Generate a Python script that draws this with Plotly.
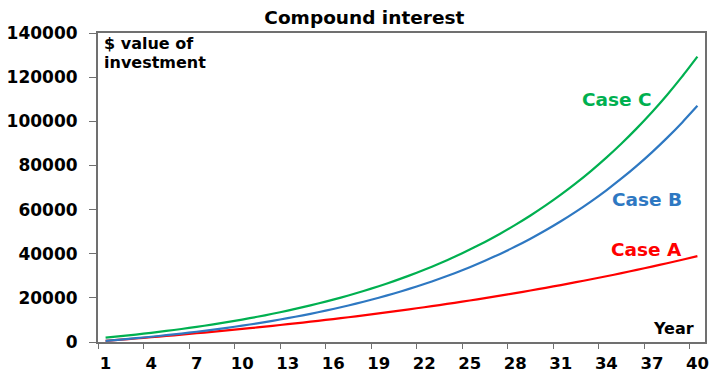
import plotly.graph_objects as go

years = list(range(1, 41))

case_a = [516, 1047, 1594, 2159, 2740, 3339, 3954, 4589, 5243, 5915,
          6608, 7324, 8058, 8817, 9598, 10401, 11228, 12081, 12960, 13865,
          14797, 15757, 16746, 17764, 18813, 19894, 21006, 22152, 23334, 24550,
          25802, 27092, 28420, 29789, 31199, 32651, 34145, 35687, 37272, 38906]

case_b = [536, 1110, 1723, 2380, 3083, 3834, 4639, 5499, 6420, 7406,
          8460, 9588, 10795, 12087, 13469, 14948, 16530, 18223, 20035, 21973,
          24048, 26267, 28641, 31182, 33901, 36810, 39923, 43253, 46817, 50630,
          54710, 59076, 63747, 68745, 74094, 79816, 85939, 92491, 99501, 107000]

case_c = [1950, 2640, 3370, 4160, 5000, 5900, 6860, 7890, 8990, 10170,
          11430, 12780, 14220, 15770, 17420, 19190, 21080, 23110, 25270, 27590,
          30070, 32730, 35570, 38610, 41860, 45340, 49060, 53050, 57310, 61870,
          66750, 71970, 77560, 83540, 89940, 96780, 104100, 111940, 120330, 129300]

x_tick_years = [1, 4, 7, 10, 13, 16, 19, 22, 25, 28, 31, 34, 37, 40]
y_tick_values = [0, 20000, 40000, 60000, 80000, 100000, 120000, 140000]

FONT = "DejaVu Sans"
GREEN = "#00B050"
BLUE = "#2E78C2"
RED = "#FF0000"
AXIS = "#707070"

fig = go.Figure()
for name, vals, col in [("Case A", case_a, RED), ("Case B", case_b, BLUE), ("Case C", case_c, GREEN)]:
    fig.add_trace(go.Scatter(x=years, y=vals, mode="lines", name=name,
                             line=dict(color=col, width=2.2, shape="spline", smoothing=0.6),
                             showlegend=False))

fig.update_layout(
    width=720, height=380,
    margin=dict(l=98, r=15, t=33, b=38),
    paper_bgcolor="white", plot_bgcolor="white",
    font=dict(family=FONT, color="black"),
    title=dict(text="<b>Compound interest</b>", x=0.506, xanchor="center",
               y=1 - 18 / 380, yanchor="middle",
               font=dict(family=FONT, size=18.5, color="black")),
)

fig.update_xaxes(
    range=[0.5, 40.5], tickmode="array", tickvals=x_tick_years,
    ticktext=[f"<b>{v}</b>" for v in x_tick_years],
    ticks="", showgrid=False, zeroline=False, automargin=False,
    showline=True, linecolor=AXIS, linewidth=2, mirror=True,
    tickfont=dict(family=FONT, size=16.5, color="black"),
    ticklabelstandoff=5,
    minor=dict(tickmode="array", tickvals=[v - 0.5 for v in x_tick_years],
               ticks="outside", ticklen=5, tickwidth=1, tickcolor=AXIS, showgrid=False),
)

fig.update_yaxes(
    range=[0, 140000], tickmode="array", tickvals=y_tick_values,
    ticktext=[f"<b>{v}</b>" for v in y_tick_values],
    showgrid=False, zeroline=False, automargin=False,
    ticks="outside", ticklen=7, tickwidth=1, tickcolor=AXIS,
    showline=True, linecolor=AXIS, linewidth=2, mirror=True,
    tickfont=dict(family=FONT, size=17, color="black"),
    ticklabelstandoff=8,
)

def ann(text, x, y, color, size, xanchor="center"):
    fig.add_annotation(text=f"<b>{text}</b>", x=x, y=y, xref="paper", yref="paper",
                       xanchor=xanchor, yanchor="middle", showarrow=False,
                       font=dict(family=FONT, size=size, color=color))

pw, ph = 720 - 98 - 15, 380 - 33 - 38
px = lambda X: (X - 98) / pw
py = lambda Y: (342 - Y) / ph

ann("$ value of", px(102), py(43.5), "black", 16, "left")
ann("investment", px(102), py(62), "black", 16, "left")
ann("Year", px(673), py(328), "black", 16)
ann("Case C", px(616.5), py(99), GREEN, 18.5)
ann("Case B", px(647), py(199.5), BLUE, 18.5)
ann("Case A", px(646), py(249), RED, 18.5)

fig.write_html("out.html")
